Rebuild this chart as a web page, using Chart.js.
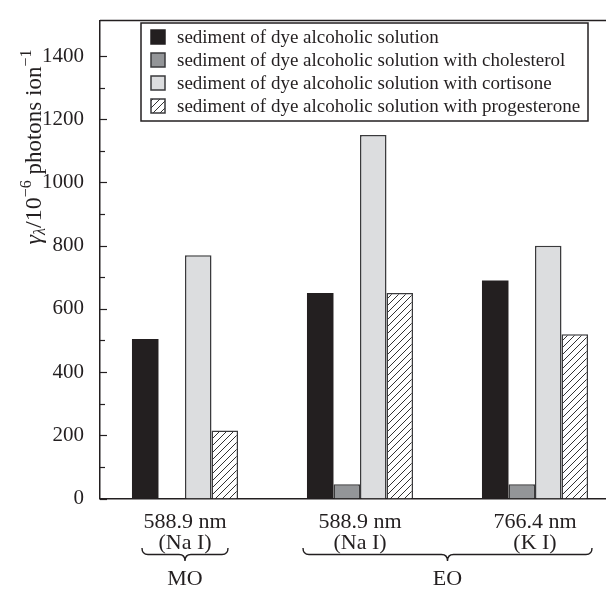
<!DOCTYPE html>
<html>
<head>
<meta charset="utf-8">
<script src="https://cdn.jsdelivr.net/npm/chart.js@4.4.0/dist/chart.umd.min.js"></script>
<style>
  html, body { margin: 0; padding: 0; background: #fff; }
</style>
</head>
<body>
<canvas id="chart" width="606" height="590"></canvas>
<script>
// data
const categories = [["588.9 nm", "(Na I)"], ["588.9 nm", "(Na I)"], ["766.4 nm", "(K I)"]];
const seriesLabels = [
  "sediment of dye alcoholic solution",
  "sediment of dye alcoholic solution with cholesterol",
  "sediment of dye alcoholic solution with cortisone",
  "sediment of dye alcoholic solution with progesterone"
];
const dyeSolution = [505, 650, 690];
const withCholesterol = [null, 45, 45];
const withCortisone = [770, 1150, 800];
const withProgesterone = [215, 650, 520];
const yTickLabels = [0, 200, 400, 600, 800, 1000, 1200, 1400];
const yMinorTicks = [100, 300, 500, 700, 900, 1100, 1300];
const groupLabels = ["MO", "EO"];
const groupCategories = [[0, 0], [1, 2]];

const ink = "#231f20";
const edge = "#3a3a3c";
const serif = "'Liberation Serif', 'Times New Roman', serif";

function hatchPattern() {
  const c = document.createElement("canvas");
  c.width = 7; c.height = 7;
  const g = c.getContext("2d");
  g.fillStyle = "#fff";
  g.fillRect(0, 0, 7, 7);
  g.strokeStyle = "#333";
  g.lineWidth = 1;
  g.beginPath();
  g.moveTo(0, 7); g.lineTo(7, 0);
  g.moveTo(-1, 1); g.lineTo(1, -1);
  g.moveTo(6, 8); g.lineTo(8, 6);
  g.stroke();
  return g.createPattern(c, "repeat");
}
const hatch = hatchPattern();

function points(values) {
  return values.map((v, i) => ({ x: i, y: v }));
}

// frame, inward ticks, legend, axis title and group braces
const decorations = {
  id: "decorations",
  afterDraw(chart) {
    const ctx = chart.ctx;
    const area = chart.chartArea;
    const y = chart.scales.y;
    const x = chart.scales.x;
    ctx.save();
    ctx.strokeStyle = ink;
    ctx.lineWidth = 1.5;
    ctx.beginPath();
    ctx.moveTo(area.left, area.top);
    ctx.lineTo(area.right, area.top);
    ctx.stroke();

    ctx.lineWidth = 1.2;
    yTickLabels.concat(yMinorTicks).forEach(v => {
      const py = Math.round(y.getPixelForValue(v)) + 0.5;
      const len = yTickLabels.includes(v) ? 7 : 5;
      ctx.beginPath();
      ctx.moveTo(area.left, py);
      ctx.lineTo(area.left + len, py);
      ctx.stroke();
    });

    // legend
    const lx = 141, ly = 23, lw = 447, lh = 98;
    ctx.fillStyle = "#fff";
    ctx.fillRect(lx, ly, lw, lh);
    ctx.lineWidth = 1.5;
    ctx.strokeStyle = ink;
    ctx.strokeRect(lx, ly, lw, lh);
    ctx.font = "19px " + serif;
    ctx.textBaseline = "middle";
    chart.data.datasets.forEach((ds, i) => {
      const cy = ly + 14 + i * 23;
      ctx.fillStyle = ds.backgroundColor;
      ctx.fillRect(151, cy - 7, 14, 14);
      ctx.strokeStyle = ds.borderColor;
      ctx.lineWidth = 1.5;
      ctx.strokeRect(151, cy - 7, 14, 14);
      ctx.fillStyle = ink;
      ctx.fillText(ds.label, 177, cy + 1);
    });

    // y axis title
    ctx.translate(41, 147);
    ctx.rotate(-Math.PI / 2);
    const parts = [
      { t: "γ", f: "italic 24px " + serif, dy: 0 },
      { t: "λ", f: "italic 16px " + serif, dy: 4 },
      { t: "/10", f: "24px " + serif, dy: 0 },
      { t: "−6", f: "16px " + serif, dy: -10 },
      { t: " photons ion", f: "23px " + serif, dy: 0 },
      { t: "−1", f: "16px " + serif, dy: -10 }
    ];
    let total = 0;
    parts.forEach(p => { ctx.font = p.f; p.w = ctx.measureText(p.t).width; total += p.w; });
    let px = -total / 2;
    ctx.textBaseline = "alphabetic";
    ctx.fillStyle = ink;
    parts.forEach(p => { ctx.font = p.f; ctx.fillText(p.t, px, p.dy); px += p.w; });
    ctx.setTransform(1, 0, 0, 1, 0, 0);

    // group braces under the category labels
    const pads = [43, 57];
    ctx.strokeStyle = ink;
    ctx.lineWidth = 1.4;
    ctx.font = "22px " + serif;
    ctx.textAlign = "center";
    ctx.textBaseline = "middle";
    groupCategories.forEach((span, i) => {
      const x1 = x.getPixelForValue(span[0]) - pads[i];
      const x2 = x.getPixelForValue(span[1]) + pads[i];
      const mid = (x1 + x2) / 2;
      const top = 548, h = 13, r = 6;
      const ym = top + h / 2;
      ctx.beginPath();
      ctx.moveTo(x1, top);
      ctx.quadraticCurveTo(x1, ym, x1 + r, ym);
      ctx.lineTo(mid - r, ym);
      ctx.quadraticCurveTo(mid, ym, mid, top + h);
      ctx.quadraticCurveTo(mid, ym, mid + r, ym);
      ctx.lineTo(x2 - r, ym);
      ctx.quadraticCurveTo(x2, ym, x2, top);
      ctx.stroke();
      ctx.fillText(groupLabels[i], mid, 579);
    });
    ctx.restore();
  }
};

new Chart(document.getElementById("chart"), {
  type: "bar",
  data: {
    datasets: [
      { label: seriesLabels[0], data: points(dyeSolution), backgroundColor: ink, borderColor: ink, borderWidth: 0 },
      { label: seriesLabels[1], data: points(withCholesterol), backgroundColor: "#939598", borderColor: edge, borderWidth: 1.5 },
      { label: seriesLabels[2], data: points(withCortisone), backgroundColor: "#dcdddf", borderColor: edge, borderWidth: 1.5 },
      { label: seriesLabels[3], data: points(withProgesterone), backgroundColor: hatch, borderColor: edge, borderWidth: 1.5 }
    ]
  },
  options: {
    responsive: false,
    animation: false,
    categoryPercentage: 0.606,
    barPercentage: 1,
    layout: { padding: { top: 13, right: 0, left: 0, bottom: 0 } },
    plugins: { legend: { display: false }, tooltip: { enabled: false } },
    scales: {
      x: {
        type: "linear",
        offset: false,
        bounds: "ticks",
        min: -0.4857,
        max: 2.4057,
        grid: { display: false, offset: false },
        border: { display: true, color: ink, width: 1.5 },
        afterBuildTicks: s => { s.ticks = categories.map((c, i) => ({ value: i })); },
        afterFit: s => { s.height = 91.5; },
        ticks: {
          color: ink,
          padding: 6,
          maxRotation: 0,
          autoSkip: false,
          font: { family: serif, size: 22, lineHeight: 0.92 },
          callback: v => categories[v]
        }
      },
      y: {
        min: 0,
        max: 1512,
        grid: { display: false },
        border: { display: true, color: ink, width: 1.5 },
        afterBuildTicks: s => { s.ticks = yTickLabels.map(v => ({ value: v })); },
        afterFit: s => { s.width = 100; },
        ticks: {
          color: ink,
          padding: 8,
          font: { family: serif, size: 21 },
          callback: v => String(v)
        }
      }
    }
  },
  plugins: [decorations]
});
</script>
</body>
</html>
